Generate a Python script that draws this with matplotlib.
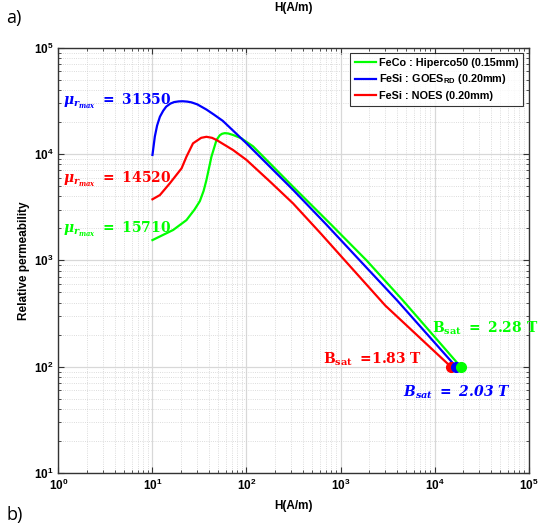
import matplotlib
matplotlib.use('Agg')
import matplotlib.pyplot as plt

# ================ data ================
# H (A/m) and relative permeability for each sheet
H_feco = [10, 16.6, 23, 28, 31.9, 35, 37.5, 42.4, 48, 52, 55, 58.8, 64, 72, 88, 117.5, 180, 313, 802, 1890, 4500, 18900]
mu_feco = [1550, 1930, 2390, 3000, 3600, 4500, 5690, 9440, 13550, 15000, 15500, 15710, 15600, 15100, 14060, 11800, 8070, 4920, 2150, 1000, 430, 100]

H_goes = [10, 10.3, 10.6, 11.2, 12, 13, 14, 15.5, 17, 19, 21, 23.5, 26, 30, 37.5, 45, 56, 72, 100, 180, 313, 697, 1600, 4000, 16900]
mu_goes = [9800, 12000, 14600, 18500, 22400, 25500, 27900, 29800, 30800, 31250, 31350, 31100, 30600, 29300, 26200, 23500, 20500, 16600, 12600, 7500, 4600, 2200, 1000, 420, 100]

H_noes = [10, 12, 15.3, 20.4, 23, 27, 30.5, 33, 37.5, 43, 48, 72, 100, 180, 313, 602, 1110, 3000, 14900]
mu_noes = [3750, 4110, 5300, 7330, 9440, 12600, 13550, 14200, 14520, 14200, 13550, 10900, 8800, 5450, 3430, 1830, 1000, 375, 100]

labels = ['FeCo : Hiperco50 (0.15mm)', r'FeSi : GOES$_\mathbf{RD}$ (0.20mm)', 'FeSi : NOES (0.20mm)']
colors = ['#00ff00', '#0000ff', '#ff0000']
mu_max = [15710, 31350, 14520]
B_sat = [2.28, 2.03, 1.83]

# ================ style ================
plt.rcParams['font.family'] = ['Liberation Sans', 'DejaVu Sans']
plt.rcParams['font.weight'] = 'bold'
plt.rcParams['mathtext.fontset'] = 'custom'
plt.rcParams['mathtext.rm'] = 'DejaVu Serif:bold'
plt.rcParams['mathtext.it'] = 'DejaVu Serif:italic:bold'
plt.rcParams['mathtext.sf'] = 'DejaVu Serif:italic:bold'
plt.rcParams['mathtext.bf'] = 'Liberation Sans:bold'

Figure = plt.figure(figsize=(5.41, 5.27), dpi=100)
ax = Figure.add_axes([0.108, 0.1025, 0.869, 0.807])

ax.plot(H_feco, mu_feco, color=colors[0], lw=1.6, label=labels[0])
ax.plot(H_goes, mu_goes, color=colors[1], lw=1.6, label=labels[1])
ax.plot(H_noes, mu_noes, color=colors[2], lw=1.6, label=labels[2])

# end points (saturation)
ax.plot(H_noes[-1], mu_noes[-1], 'o', color=colors[2], ms=7, zorder=5)
ax.plot(H_goes[-1], mu_goes[-1], 'o', color=colors[1], ms=7, zorder=5)
ax.plot(H_feco[-1], mu_feco[-1], 'o', color=colors[0], ms=7, zorder=5)

ax.set_xscale('log')
ax.set_yscale('log')
ax.set_xlim(1, 1e5)
ax.set_ylim(10, 1e5)

ax.grid(which='major', color='#d8d8d8', lw=0.9, ls='-')
ax.grid(which='minor', color='#d0d0d0', lw=0.6, ls=':')
ax.set_axisbelow(True)
ax.tick_params(which='both', direction='in', top=True, right=True, colors='#333333', labelsize=8.5)
ax.tick_params(which='major', length=4)
ax.tick_params(which='minor', length=2)
for s in ax.spines.values():
    s.set_color('#333333')
    s.set_linewidth(1.0)
for lab in ax.get_xticklabels() + ax.get_yticklabels():
    lab.set_color('black')

ax.set_xlabel('H(A/m)', fontsize=8.5, fontweight='bold', labelpad=5)
ax.set_ylabel('Relative permeability', fontsize=8.5, fontweight='bold', labelpad=3)

leg = ax.legend(loc='upper right', fontsize=7.8, frameon=True, fancybox=False,
                edgecolor='black', handlelength=2.0, handletextpad=0.2,
                labelspacing=0.4, borderaxespad=0.5, borderpad=0.45)
leg.get_frame().set_linewidth(0.8)

# annotations
ax.text(0.009, 0.865, r'$\mu_{r_{max}}\ =\ %d$' % mu_max[1], color=colors[1],
        fontsize=10, transform=ax.transAxes, va='baseline')
ax.text(0.009, 0.683, r'$\mu_{r_{max}}\ =\ %d$' % mu_max[2], color=colors[2],
        fontsize=10, transform=ax.transAxes, va='baseline')
ax.text(0.009, 0.564, r'$\mu_{r_{max}}\ =\ %d$' % mu_max[0], color=colors[0],
        fontsize=10, transform=ax.transAxes, va='baseline')
ax.text(0.794, 0.330, r'$\mathrm{B_{sat}}\ =\ %.2f\ \mathrm{T}$' % B_sat[0], color=colors[0],
        fontsize=10, transform=ax.transAxes, va='baseline')
ax.text(0.562, 0.258, r'$\mathrm{B_{sat}}\ =\!%.2f\ \mathrm{T}$' % B_sat[2], color=colors[2],
        fontsize=10, transform=ax.transAxes, va='baseline')
ax.text(0.733, 0.179, r'$B_{sat}\ =\ \mathsf{%.2f}\ T$' % B_sat[1], color=colors[1],
        fontsize=10, transform=ax.transAxes, va='baseline')

# panel bits
Figure.text(0.5425, 0.985, 'H(A/m)', fontsize=8.5, fontweight='bold', ha='center', va='center')
Figure.text(0.012, 0.965, 'a)', fontsize=13, fontweight='normal', family='Open Sans', ha='left', va='center')
Figure.text(0.012, 0.022, 'b)', fontsize=13, fontweight='normal', family='Open Sans', ha='left', va='center')

Figure.savefig('out.png', dpi=100)
